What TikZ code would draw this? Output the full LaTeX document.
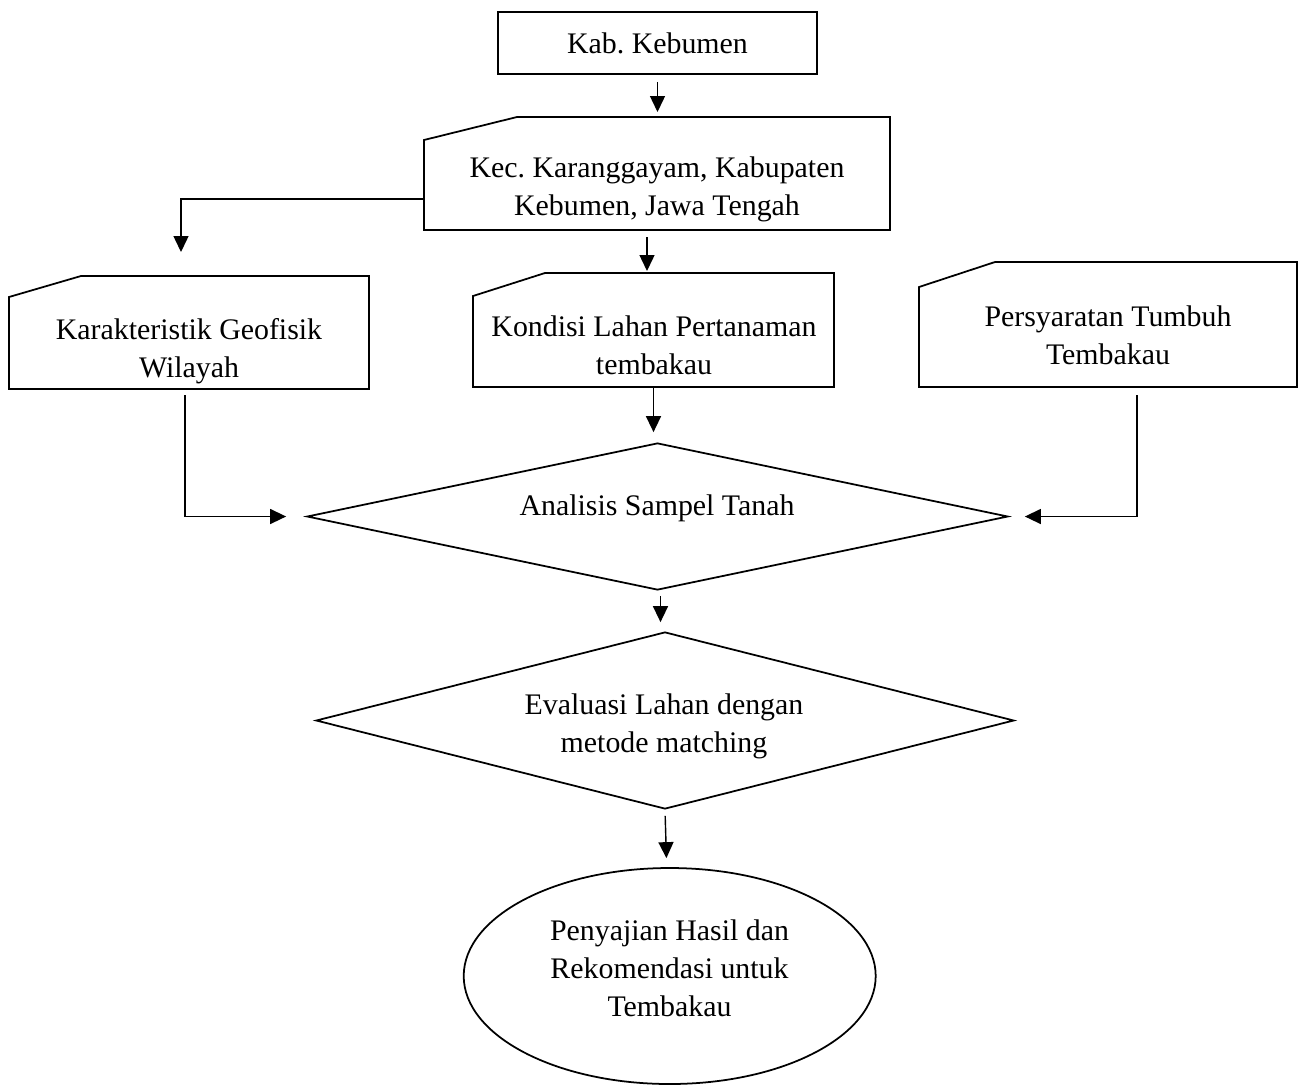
\documentclass[tikz,border=0pt]{standalone}
\usepackage{fontspec}
\setmainfont{Liberation Serif}
\usetikzlibrary{arrows.meta,calc,shapes.geometric}
\frenchspacing
\newcommand\cardoutline[3]{%
  \draw[outline] ($(#1.north west)+(#2,0)$) -- (#1.north east) -- (#1.south east)
    -- (#1.south west) -- ($(#1.north west)+(0,#3)$) -- cycle;}
\tikzset{
  outline/.style={draw=black, line width=1pt},
  holder/.style={rectangle, draw=none, inner sep=0pt, outer sep=0pt},
  lbl/.style={align=center, inner sep=0pt, font=\fontsize{17}{21.6}\selectfont},
  arr/.style={draw=black, line width=0.8pt, -{Triangle[length=3.2mm,width=3mm]}},
}
\begin{document}
\begin{tikzpicture}[x=0.02cm,y=-0.02cm]
\useasboundingbox (0,0) rectangle (1301,1086);
% boxes
\node[outline, lbl, rectangle, inner sep=0pt, minimum width=319*0.02cm, minimum height=62*0.02cm] (kab) at (657.5,43) {Kab. Kebumen};
\node[holder, minimum width=466*0.02cm, minimum height=113*0.02cm] (kec) at (657,173.5) {};
\cardoutline{kec}{93}{23}
\node[lbl] (keclbl) at (657,189) {Kec. Karanggayam, Kabupaten\\Kebumen, Jawa Tengah};
\node[holder, minimum width=360*0.02cm, minimum height=113*0.02cm] (kar) at (189,332.5) {};
\cardoutline{kar}{72}{21}
\node[lbl] (karlbl) at (189,351) {Karakteristik Geofisik\\Wilayah};
\node[holder, minimum width=361*0.02cm, minimum height=114*0.02cm] (kon) at (653.5,330) {};
\cardoutline{kon}{72}{23}
\node[lbl] (konlbl) at (654,345.5) {Kondisi Lahan Pertanaman\\tembakau};
\node[holder, minimum width=378*0.02cm, minimum height=125*0.02cm] (per) at (1108,324.5) {};
\cardoutline{per}{76}{25}
\node[lbl] (perlbl) at (1108,335) {Persyaratan Tumbuh\\Tembakau};
\node[outline, diamond, inner sep=0pt, minimum width=701*0.02cm, minimum height=147*0.02cm] (ana) at (657.5,516.5) {};
\node[lbl] (analbl) at (657,508) {Analisis Sampel Tanah};
\node[outline, diamond, inner sep=0pt, minimum width=698*0.02cm, minimum height=177*0.02cm] (eva) at (665,720.5) {};
\node[lbl] (evalbl) at (664,726) {Evaluasi Lahan dengan\\metode matching};
\node[outline, ellipse, inner sep=0pt, minimum width=412*0.02cm, minimum height=216*0.02cm] (ell) at (669.7,976) {};
\node[lbl] (elllbl) at (669.5,968) {Penyajian Hasil dan\\Rekomendasi untuk\\Tembakau};
% connectors
\draw[arr, shorten <=0.14cm, shorten >=0.1cm] (kab.south) -- (kab.south |- kec.north);
\draw[arr, shorten >=0.48cm] ($(kec.south west)+(0,-31)$) -| ($(kar.north)+(-8,0)$);
\draw[arr, shorten <=0.14cm, shorten >=0.04cm] ($(kec.south)+(-10,0)$) coordinate (c1) -- (c1 |- kon.north);
\draw[arr, shorten >=0.2cm] (kon.south) -- (kon.south |- ana.north);
\draw[arr, shorten <=0.12cm, shorten >=0.4cm] ($(kar.south)+(-4,0)$) |- (ana.west);
\draw[arr, shorten <=0.16cm, shorten >=0.32cm] ($(per.south)+(29,0)$) |- (ana.east);
\draw[arr, shorten <=0.1cm, shorten >=0.18cm] ($(ana.south)+(3,0)$) coordinate (c2) -- (c2 |- eva.north);
\draw[arr, shorten <=0.12cm, shorten >=0.18cm] (eva.south) -- ($(ell.north)+(-3,0)$);
\end{tikzpicture}
\end{document}
